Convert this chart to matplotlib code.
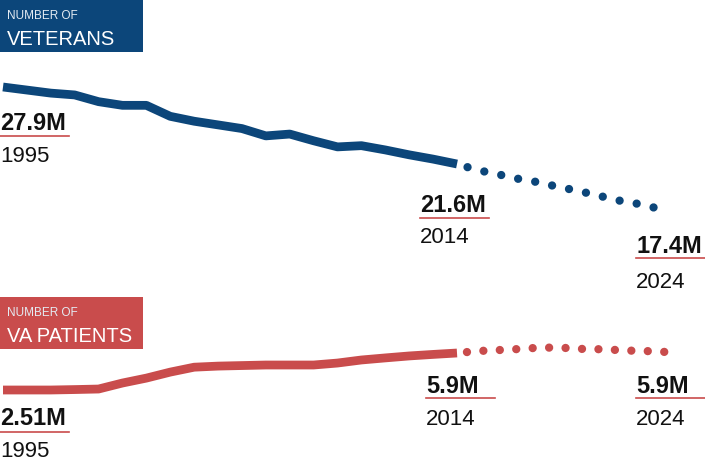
import numpy as np
import matplotlib
matplotlib.use("Agg")
import matplotlib.pyplot as plt
from matplotlib.patches import Rectangle
from matplotlib.lines import Line2D

W, H = 705, 465
BLUE = "#0c467a"
RED = "#c94c4c"
FONT = ["Liberation Sans", "DejaVu Sans"]

# --- data (millions) ---
years_hist = list(range(1995, 2015))
veterans_hist = [27.9, 27.65, 27.4, 27.25, 26.7, 26.4, 26.4, 25.5, 25.1, 24.8,
                 24.5, 23.9, 24.05, 23.5, 23.0, 23.1, 22.75, 22.35, 22.0, 21.6]
patients_hist = [2.51, 2.51, 2.51, 2.55, 2.6, 3.15, 3.6, 4.15, 4.6, 4.7,
                 4.75, 4.8, 4.8, 4.8, 4.98, 5.26, 5.45, 5.63, 5.77, 5.9]

years_proj = list(range(2014, 2025))
veterans_proj = [21.6, 21.11, 20.78, 20.41, 20.13, 19.76, 19.43, 19.06, 18.65, 18.37, 18.0]
patients_proj = [5.9, 6.08, 6.17, 6.27, 6.4, 6.38, 6.27, 6.24, 6.13, 6.08, 5.99]

vet_labels = [("27.9M", "1995"), ("21.6M", "2014"), ("17.4M", "2024")]
pat_labels = [("2.51M", "1995"), ("5.9M", "2014"), ("5.9M", "2024")]

DOT_LW = 6.0  # pt
DOT_PX = DOT_LW * 100 / 72


def px(x, y):
    return x / W, 1 - y / H


def squeeze(k):
    # projection years are drawn closer together than history years
    def fwd(x):
        x = np.asarray(x, dtype=float)
        return np.where(x <= 2014, x, 2014 + (x - 2014) * k)

    def inv(x):
        x = np.asarray(x, dtype=float)
        return np.where(x <= 2014, x, 2014 + (x - 2014) / k)

    return fwd, inv


def panel(fig, hist, proj, color, k, y_top, y_bot, spacing, first):
    ax = fig.add_axes([0, 0, 1, 1])
    ax.patch.set_alpha(0)
    ax.set_xscale("function", functions=squeeze(k))
    ppy = (457 - 3) / 19.0  # pixels per year, 1995..2014
    ax.set_xlim(1995 - 3 / ppy, 2014 + ((705 - 457) / ppy) / k)
    ax.set_ylim(y_bot, y_top)
    ax.plot(years_hist, hist, color=color, lw=6.3, solid_capstyle="butt",
            solid_joinstyle="round")
    gap = spacing / DOT_PX
    ax.plot(years_proj, proj, color=color, lw=DOT_LW,
            linestyle=((spacing - first) / DOT_PX, (0.001, gap)),
            dash_capstyle="round")
    ax.axis("off")
    return ax


fig = plt.figure(figsize=(W / 100, H / 100), dpi=100)

# veterans: 27.9 at y=87px, 21.6 at y=164px
s = (164 - 87) / 6.3
panel(fig, veterans_hist, veterans_proj, BLUE, 19.9 / 23.895,
      27.9 + 87 / s, 27.9 - (H - 87) / s, 17.3, 11)

# patients: 2.51 at y=390px, 5.9 at y=353px
s = (390 - 353) / 3.39
panel(fig, patients_hist, patients_proj, RED, 21.0 / 23.895,
      2.51 + 390 / s, 2.51 - (H - 390) / s, 16.45, 10)

# header boxes
for top, color, title in [(0, BLUE, "VETERANS"), (297, RED, "VA PATIENTS")]:
    x0, y0 = px(0, top + 52)
    fig.add_artist(Rectangle((x0, y0), 143 / W, 52 / H, transform=fig.transFigure,
                             facecolor=color, edgecolor="none"))
    fig.text(*px(7, top + 19), "NUMBER OF", color="#e4ebf2", fontsize=8.5,
             family=FONT, va="baseline")
    fig.text(*px(7, top + 45), title, color="white", fontsize=14.5,
             family=FONT, va="baseline")


def label(x, y_val, y_line, y_year, value, year):
    fig.text(*px(x, y_val), value, fontsize=17, fontweight="bold",
             family=FONT, color="#111111", va="baseline")
    fig.add_artist(Line2D([x / W, (x + 69) / W], [1 - y_line / H] * 2,
                          color=RED, lw=1.2, transform=fig.transFigure))
    fig.text(*px(x, y_year), year, fontsize=16, family=FONT,
             color="#111111", va="baseline")


vet_pos = [(0, 130, 136, 162), (420, 212, 218, 243), (636, 253, 258, 288)]
pat_pos = [(0, 425, 432, 457), (426, 393, 398, 425), (636, 393, 398, 425)]
for (value, year), (x, a, b, c) in zip(vet_labels, vet_pos):
    label(x, a, b, c, value, year)
for (value, year), (x, a, b, c) in zip(pat_labels, pat_pos):
    label(x, a, b, c, value, year)

fig.savefig("out.png", dpi=100)
